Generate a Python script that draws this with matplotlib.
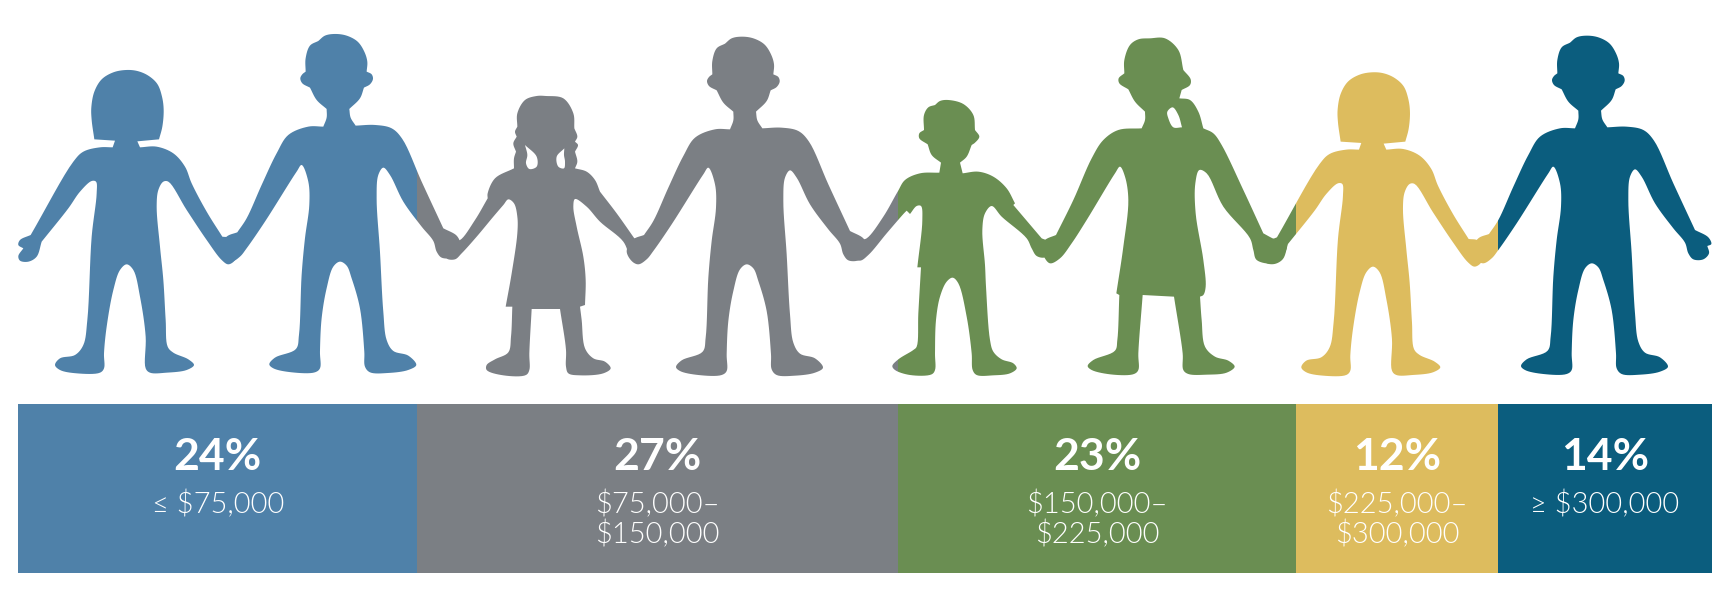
"""
Household income shares drawn as a chain of paper people over a stacked band
"""

import numpy as np
import matplotlib
matplotlib.use("Agg")
import matplotlib.pyplot as plt
from matplotlib.patches import PathPatch, Rectangle
from matplotlib.path import Path

# ─────────────────────────────────────────────
# 1. DATA
# ─────────────────────────────────────────────
percent_labels = ["24%", "27%", "23%", "12%", "14%"]
income_labels = ["≤ $75,000", "$75,000–\n$150,000", "$150,000–\n$225,000",
                 "$225,000–\n$300,000", "≥ $300,000"]
# band widths as drawn in the picture (share of the whole strip)
drawn_share = [23.58, 28.37, 23.49, 11.93, 12.63]
colors = ["#4F81A9", "#7B7F84", "#6A8E52", "#DDBC5E", "#0B5D7E"]

# ─────────────────────────────────────────────
# 2. SILHOUETTE OUTLINES (traced, 3x crop pixels)
#    a repeated point is a sharp corner
# ─────────────────────────────────────────────
MAN = [(1010,47),(1045,52),(1078,70),(1098,100),(1107,130),(1105,160),(1105,160),(1120,168),(1124,182),(1115,198),
       (1097,208),(1097,208),(1085,240),(1053,272),(1053,272),(1057,298),(1072,322),(1072,322),(1130,320),
       (1180,330),(1212,362),(1270,490),(1335,630),(1335,630),(1375,652),(1384,672),(1372,678),(1372,678),
       (1377,700),(1360,718),(1330,718),(1315,700),(1305,668),(1270,625),(1215,550),(1175,470),(1155,448),
       (1140,470),(1135,540),(1145,700),(1155,880),(1165,965),(1185,998),(1230,1012),(1254,1040),(1230,1055),
       (1170,1064),(1115,1062),(1100,1045),(1098,1000),(1085,870),(1060,780),(1045,742),(1025,730),(1005,745),
       (985,810),(970,900),(965,1000),(965,1050),(950,1062),(880,1062),(825,1050),(813,1038),(830,1018),
       (893,992),(902,950),(910,770),(920,660),(933,560),(930,490),(910,440),(895,460),(800,610),(745,690),
       (725,715),(700,730),(680,720),(665,690),(685,655),(717,642),(717,642),(745,600),(790,500),(835,405),
       (870,350),(930,325),(975,325),(975,325),(985,298),(985,272),(985,272),(955,245),(935,208),(935,208),
       (912,195),(906,180),(912,168),(922,160),(922,160),(922,120),(935,82),(960,68),(960,68),(980,52)]

WOMAN = [(378,150),(412,153),(445,167),(472,192),(486,230),(491,270),(487,320),(477,358),(477,358),(412,364),(412,364),
         (420,382),(420,382),(470,380),(520,400),(555,440),(575,490),(620,575),(667,650),(667,650),(695,655),
         (708,690),(705,720),(685,733),(665,720),(620,660),(560,570),(505,485),(490,485),(475,510),
         (470,560),(480,680),(490,780),(497,900),(503,980),(520,998),(565,1018),(582,1035),(560,1050),
         (500,1058),(450,1058),(437,1045),(437,950),(420,830),(400,750),(380,733),(360,750),(340,810),
         (320,920),(312,1000),(312,1045),(300,1058),(230,1060),(180,1050),(165,1035),(180,1015),
         (225,1005),(250,975),(262,900),(275,650),(290,520),(288,485),(275,483),(240,515),(205,565),
         (125,665),(125,665),(110,710),(85,725),(60,722),(55,708),(70,685),(70,685),(55,675),(60,660),(92,645),(92,645),(220,425),
         (250,395),(300,382),(338,382),(338,382),(345,362),(345,362),(283,358),(283,358),(275,300),
         (274,262),(283,215),(305,178),(340,157)]

GIRL = [(318,228),(370,235),(400,280),(403,325),(403,325),(412,350),(405,365),(405,365),(414,375),(405,395),(405,395),(412,425),
        (405,445),(405,445),(440,455),(465,480),(480,515),(480,515),(530,580),(583,655),(583,655),(600,660),(600,700),(585,728),
        (570,710),(550,665),(480,605),(440,560),(405,537),(400,560),(410,620),(430,710),(437,780),
        (435,855),(435,855),(420,860),(420,860),(425,900),(435,985),(460,1015),(495,1025),(512,1045),
        (490,1060),(420,1066),(385,1060),(378,1040),(378,990),(360,867),(360,867),(275,867),(275,867),
        (268,1000),(268,1050),(258,1065),(190,1066),(140,1050),(140,1035),(165,1018),(205,997),(213,950),
        (217,860),(217,860),(197,860),(197,860),(215,760),(232,640),(232,590),(222,550),(205,538),
        (190,555),(160,590),(110,650),(65,700),(45,718),(20,715),(25,690),(45,660),(60,660),(105,600),
        (143,535),(143,535),(143,520),(165,475),(222,445),(222,445),(222,415),(228,395),(228,395),(220,370),(230,350),(230,350),(225,335),
        (232,320),(232,320),(232,280),(255,240),(290,228)]
GIRL_HOLES = [[(255,375),(255,375),(290,410),(290,440),(268,447),(258,430),(262,405)],
              [(373,385),(373,385),(350,410),(355,440),(372,445),(375,425),(372,405)]]

BOY = [(265,240),(310,252),(340,285),(345,330),(345,330),(358,350),(345,368),(335,375),(335,375),(320,410),(300,428),(300,428),
       (308,460),(308,460),(355,455),(400,470),(440,505),(465,550),(465,550),(460,555),(460,555),(545,655),(545,655),(565,665),
       (570,690),(555,712),(530,708),(515,685),(500,655),(425,590),(395,558),(375,580),(367,630),
       (375,735),(378,800),(390,960),(400,995),(425,1018),(460,1030),(470,1045),(450,1060),(400,1066),
       (350,1065),(338,1050),(335,1000),(320,890),(295,790),(278,773),(260,785),(240,830),(228,900),
       (225,1000),(225,1050),(215,1063),(150,1065),(105,1050),(97,1038),(115,1018),(160,990),(170,980),
       (175,880),(183,742),(183,742),(172,742),(172,742),(187,600),(183,558),(170,558),(150,582),(150,582),
       (140,572),(140,572),(132,580),(80,640),(25,705),(0,722),(-25,710),(-25,680),(0,660),(20,655),(70,590),
       (113,515),(135,480),(180,460),(238,458),(238,458),(243,428),(243,428),(215,405),(203,373),(203,373),(178,355),
       (178,340),(192,330),(192,330),(192,285),(205,262),(225,255),(225,255),(240,243)]

PONYTAIL = [(870,55),(915,55),(955,90),(970,150),(970,150),(992,178),(990,195),(965,210),(965,210),(958,235),(958,235),
            (990,240),(1015,275),(1030,325),(1030,325),(1060,340),(1085,375),(1150,510),(1210,640),(1210,640),
            (1240,656),(1280,672),(1268,710),(1240,730),(1190,720),(1180,690),(1170,655),(1090,560),
            (1040,460),(1018,450),(1006,490),(1007,580),(1030,720),(1037,800),(1030,825),(1020,830),(1020,830),
            (1025,900),(1035,980),(1065,1010),(1105,1022),(1124,1040),(1100,1058),(1040,1064),(985,1062),
            (970,1050),(968,1000),(942,830),(942,830),(848,825),(848,825),(835,1000),(835,1050),(822,1062),
            (760,1064),(695,1050),(683,1038),(700,1020),(765,992),(772,960),(778,825),(778,825),(769,820),
            (769,820),(790,680),(805,540),(795,470),(780,440),(765,460),(680,600),(635,670),(600,715),
            (570,730),(552,710),(545,680),(555,660),(588,645),(588,645),(640,540),(695,415),(730,360),(775,330),
            (845,325),(845,325),(855,300),(855,275),(855,275),(825,245),(805,208),(805,208),(778,190),(776,175),(793,160),(793,160),
            (793,120),(810,75),(835,58)]
PONYTAIL_HOLES = [[(938,262),(955,285),(966,322),(966,322),(940,322),(925,295),(922,275)]]


def smooth(points, n=8):
    # closed centripetal Catmull-Rom, repeated points stay corners
    pts = [np.array(q, dtype=float) for q in points]
    count = len(pts)
    out = []
    for i in range(count):
        p0, p1, p2, p3 = pts[i - 1], pts[i], pts[(i + 1) % count], pts[(i + 2) % count]
        if np.array_equal(p1, p2):
            continue
        if np.array_equal(p0, p1):
            p0 = 2 * p1 - p2
        if np.array_equal(p2, p3):
            p3 = 2 * p2 - p1
        t0 = 0.0
        t1 = t0 + np.linalg.norm(p1 - p0)**0.5
        t2 = t1 + np.linalg.norm(p2 - p1)**0.5
        t3 = t2 + np.linalg.norm(p3 - p2)**0.5
        for t in np.linspace(t1, t2, n, endpoint=False):
            a1 = (t1 - t) / (t1 - t0) * p0 + (t - t0) / (t1 - t0) * p1
            a2 = (t2 - t) / (t2 - t1) * p1 + (t - t1) / (t2 - t1) * p2
            a3 = (t3 - t) / (t3 - t2) * p2 + (t - t2) / (t3 - t2) * p3
            b1 = (t2 - t) / (t2 - t0) * a1 + (t - t0) / (t2 - t0) * a2
            b2 = (t3 - t) / (t3 - t1) * a2 + (t - t1) / (t3 - t1) * a3
            out.append((t2 - t) / (t2 - t1) * b1 + (t - t1) / (t2 - t1) * b2)
    return np.array(out)


def ring_area(r):
    return np.sum(r[:, 0] * np.roll(r[:, 1], -1) - np.roll(r[:, 0], -1) * r[:, 1])


def make_path(outline, holes, x0, y0):
    # crop pixels are 3x, so divide and shift to figure pixels
    verts, codes = [], []
    rings = [smooth(outline)]
    for h in holes:
        r = smooth(h)
        # holes have to wind against the outline
        rings.append(r if np.sign(ring_area(r)) != np.sign(ring_area(rings[0])) else r[::-1])
    for r in rings:
        r = r / 3 + [x0, y0]
        verts.extend(r)
        verts.append(r[0])
        codes += [Path.MOVETO] + [Path.LINETO] * (len(r) - 1) + [Path.CLOSEPOLY]
    return Path(verts, codes)


people = [
    make_path(WOMAN, [], 0, 20),
    make_path(MAN, [], -1.7, 18.3),
    make_path(GIRL, GIRL_HOLES, 440, 20),
    make_path(MAN, [], 405, 21),
    make_path(BOY, [], 860, 20),
    make_path(PONYTAIL, PONYTAIL_HOLES, 860, 20),
    make_path(WOMAN, [], 1246.3, 22.3),
    make_path(MAN, [], 1250, 20),
]

# ─────────────────────────────────────────────
# 3. FIGURE
# ─────────────────────────────────────────────
plt.rcParams['font.family'] = ['Lato', 'DejaVu Sans']

fig = plt.figure(figsize=(17.30, 5.93), dpi=100)
ax = fig.add_axes([0, 0, 1, 1])
ax.set_xlim(0, 1730)
ax.set_ylim(593, 0)
ax.axis("off")

BAR_LEFT, BAR_WIDTH = 18, 1694
BAR_TOP, BAR_BOTTOM = 404, 573

widths = np.array(drawn_share) * BAR_WIDTH / 100
lefts = BAR_LEFT + np.concatenate([[0], np.cumsum(widths)[:-1]])

ax.bar(lefts, BAR_BOTTOM - BAR_TOP, width=widths, bottom=BAR_TOP,
       align='edge', color=colors, linewidth=0)

# the chain of people changes colour at the same edges as the strip
for i, (left, width, color) in enumerate(zip(lefts, widths, colors)):
    x_from = 0 if i == 0 else left
    x_to = 1730 if i == len(colors) - 1 else left + width
    clip = Rectangle((x_from, 0), x_to - x_from, 400, transform=ax.transData)
    for person in people:
        patch = PathPatch(person, facecolor=color, edgecolor='none', zorder=3)
        ax.add_patch(patch)
        patch.set_clip_path(clip)

for left, width, pct, income in zip(lefts, widths, percent_labels, income_labels):
    cx = left + width / 2
    ax.text(cx, 453, pct, ha='center', va='center_baseline', color='white',
            fontsize=32, fontweight='bold')
    ax.text(cx, 502, income.split("\n")[0], ha='center', va='center_baseline', color='white',
            fontsize=21, fontweight=300)
    if "\n" in income:
        ax.text(cx, 532, income.split("\n")[1], ha='center', va='center_baseline', color='white',
                fontsize=21, fontweight=300)

fig.savefig("out.png", dpi=100, facecolor='white')
plt.close()
